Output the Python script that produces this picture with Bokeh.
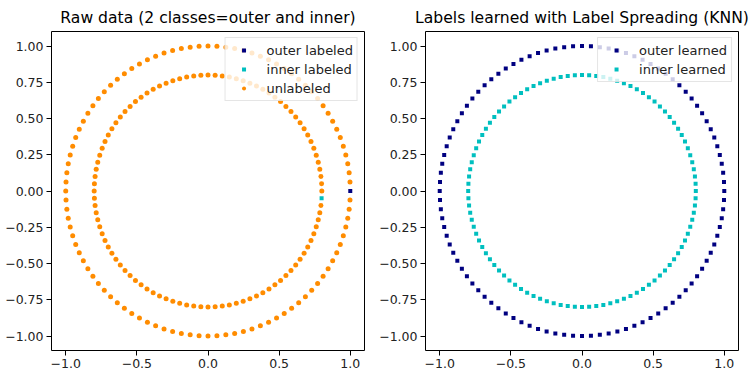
import numpy as np
from bokeh.plotting import figure
from bokeh.layouts import row
from bokeh.models import FixedTicker, CustomJSTickFormatter
from bokeh.embed import file_html
from bokeh.resources import INLINE

# ---- data (make_circles-like: 100 outer + 100 inner points, factor 0.8) ----
n_per_circle = 100
inner_factor = 0.8
angles = np.linspace(0, 2 * np.pi, n_per_circle, endpoint=False)
outer_x = np.cos(angles)
outer_y = np.sin(angles)
inner_x = inner_factor * np.cos(angles)
inner_y = inner_factor * np.sin(angles)

# labeled points: first outer point, last inner point
outer_labeled_x = [outer_x[0]]
outer_labeled_y = [outer_y[0]]
inner_labeled_x = [inner_x[-1]]
inner_labeled_y = [inner_y[-1]]
unlabeled_x = list(outer_x[1:]) + list(inner_x[:-1])
unlabeled_y = list(outer_y[1:]) + list(inner_y[:-1])

x_ticks = [-1.0, -0.5, 0.0, 0.5, 1.0]
y_ticks = [-1.0, -0.75, -0.5, -0.25, 0.0, 0.25, 0.5, 0.75, 1.0]

titles = ["Raw data (2 classes=outer and inner)",
          "Labels learned with Label Spreading (KNN)"]

NAVY = "#000080"
CYAN = "#00BFBF"
ORANGE = "#FF8C00"
FONT = "DejaVu Sans"


def make_fig(title, left):
    p = figure(width=376, height=376, x_range=(-1.1, 1.1), y_range=(-1.1, 1.1),
               output_backend="svg", toolbar_location=None,
               min_border_left=left, min_border_right=376 - left - 313,
               min_border_top=31, min_border_bottom=26)
    p.title.text = title
    p.title.text_font = FONT
    p.title.text_font_size = "15.6px"
    p.title.text_font_style = "normal"
    p.title.align = "center"
    p.title.text_color = "black"
    p.xgrid.visible = False
    p.ygrid.visible = False
    p.outline_line_color = "black"
    p.outline_line_alpha = 1
    p.outline_line_width = 1
    p.background_fill_color = "white"
    p.border_fill_color = "white"
    p.xaxis.ticker = FixedTicker(ticks=x_ticks)
    p.yaxis.ticker = FixedTicker(ticks=y_ticks)
    p.xaxis.formatter = CustomJSTickFormatter(
        code="return tick.toFixed(1).replace('-', '\u2212');")
    p.yaxis.formatter = CustomJSTickFormatter(
        code="return tick.toFixed(2).replace('-', '\u2212');")
    for ax in (p.xaxis, p.yaxis):
        ax.major_tick_out = 5
        ax.major_tick_in = 0
        ax.minor_tick_line_color = None
        ax.axis_line_color = None
        ax.major_tick_line_color = "black"
        ax.major_label_text_font = FONT
        ax.major_label_text_font_size = "12.5px"
        ax.major_label_text_color = "#222222"
        ax.major_label_standoff = 3
    return p


def style_legend(p):
    lg = p.legend[0]
    lg.location = "top_right"
    lg.margin = 6
    lg.padding = 4
    lg.spacing = 3
    lg.label_height = 16
    lg.glyph_height = 10
    lg.glyph_width = 28
    lg.label_standoff = 9
    lg.label_text_font = FONT
    lg.label_text_font_size = "13px"
    lg.label_text_color = "#222222"
    lg.border_line_color = "#cccccc"
    lg.border_line_width = 1
    lg.background_fill_color = "white"
    lg.background_fill_alpha = 0.8


p1 = make_fig(titles[0], 51)
p1.scatter(outer_labeled_x, outer_labeled_y, marker="square", size=4,
           fill_color=NAVY, line_color=None, legend_label="outer labeled")
p1.scatter(inner_labeled_x, inner_labeled_y, marker="square", size=4,
           fill_color=CYAN, line_color=None, legend_label="inner labeled")
p1.scatter(unlabeled_x, unlabeled_y, marker="circle", size=5,
           fill_color=ORANGE, line_color=None, legend_label="unlabeled")
style_legend(p1)

p2 = make_fig(titles[1], 49)
p2.scatter(outer_x, outer_y, marker="square", size=4,
           fill_color=NAVY, line_color=None, legend_label="outer learned")
p2.scatter(inner_x, inner_y, marker="square", size=4,
           fill_color=CYAN, line_color=None, legend_label="inner learned")
style_legend(p2)

layout = row(p1, p2)
open("out.html", "w").write(file_html(layout, INLINE))
